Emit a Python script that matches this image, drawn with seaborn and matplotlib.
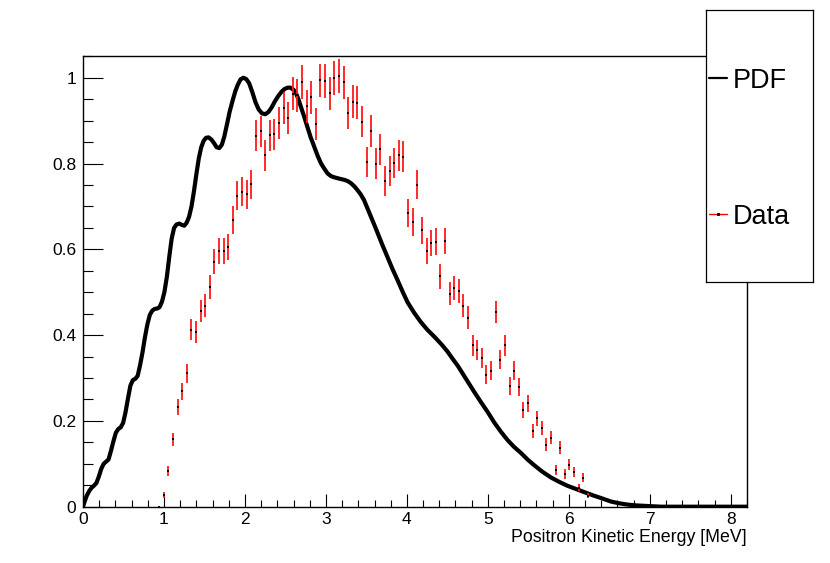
import numpy as np
import matplotlib
matplotlib.use("Agg")
import matplotlib.pyplot as plt
import seaborn as sns
from matplotlib.lines import Line2D
from matplotlib.ticker import MultipleLocator, FormatStrFormatter

# data histogram: 144 bins over 0 - 8.2 MeV, first filled bin is #16
bin_width = 8.2 / 144
first_bin = 16

data_vals = [
    0.000, 0.027, 0.083, 0.157, 0.232, 0.269, 0.311, 0.413, 0.407, 0.456,
    0.468, 0.512, 0.571, 0.596, 0.595, 0.605, 0.668, 0.725, 0.734, 0.728,
    0.752, 0.865, 0.875, 0.819, 0.866, 0.868, 0.894, 0.929, 0.906, 0.963,
    0.959, 0.990, 0.933, 0.954, 0.893, 0.994, 0.993, 0.964, 1.000, 1.004,
    0.989, 0.917, 0.944, 0.942, 0.898, 0.804, 0.876, 0.800, 0.833, 0.759,
    0.782, 0.801, 0.819, 0.816, 0.685, 0.664, 0.751, 0.644, 0.597, 0.615,
    0.618, 0.537, 0.619, 0.497, 0.509, 0.502, 0.468, 0.441, 0.376, 0.365,
    0.347, 0.308, 0.317, 0.454, 0.343, 0.376, 0.282, 0.317, 0.279, 0.226,
    0.241, 0.177, 0.206, 0.183, 0.145, 0.161, 0.086, 0.138, 0.076, 0.098,
    0.081, 0.044, 0.068, 0.026,
]
data_energy = (np.arange(first_bin, first_bin + len(data_vals)) + 0.5) * bin_width
# poisson errors of the normalised counts (peak bin ~650 entries)
n_max = 650
data_err = np.sqrt(np.array(data_vals) / n_max)

# PDF curve
pdf_energy = [
    0.000, 0.020, 0.045, 0.075, 0.105, 0.135, 0.165, 0.195, 0.225, 0.255,
    0.285, 0.315, 0.345, 0.375, 0.405, 0.435, 0.465, 0.495, 0.525, 0.555,
    0.585, 0.615, 0.645, 0.675, 0.705, 0.735, 0.765, 0.795, 0.825, 0.855,
    0.885, 0.915, 0.945, 0.975, 1.005, 1.035, 1.065, 1.095, 1.125, 1.155,
    1.19, 1.22, 1.25, 1.28, 1.31, 1.34, 1.37, 1.40, 1.43, 1.46,
    1.49, 1.52, 1.55, 1.585, 1.62, 1.65, 1.683, 1.715, 1.745, 1.78,
    1.81, 1.845, 1.88, 1.91, 1.945, 1.98, 2.015, 2.05, 2.09, 2.13,
    2.17, 2.21, 2.25, 2.29, 2.33, 2.37, 2.41, 2.45, 2.49, 2.53,
    2.56, 2.60, 2.63, 2.66, 2.69, 2.73, 2.77, 2.81, 2.856, 2.90,
    2.94, 2.98, 3.02, 3.06, 3.10, 3.16, 3.226, 3.27, 3.31, 3.35,
    3.39, 3.43, 3.47, 3.51, 3.556, 3.60, 3.64, 3.70, 3.76, 3.82,
    3.885, 3.95, 4.01, 4.09, 4.17, 4.25, 4.34, 4.42, 4.50, 4.56,
    4.63, 4.69, 4.75, 4.83, 4.91, 5.00, 5.08, 5.16, 5.24, 5.32,
    5.41, 5.49, 5.57, 5.67, 5.78, 5.88, 5.98, 6.09, 6.19, 6.29,
    6.40, 6.52, 6.62, 6.72, 6.83, 6.93, 7.04, 7.14, 8.2,
]
pdf_vals = [
    0.000, 0.012, 0.025, 0.036, 0.044, 0.049, 0.055, 0.070, 0.088, 0.100,
    0.105, 0.110, 0.130, 0.152, 0.172, 0.181, 0.185, 0.195, 0.220, 0.252,
    0.282, 0.295, 0.298, 0.305, 0.330, 0.360, 0.395, 0.425, 0.447, 0.457,
    0.461, 0.462, 0.465, 0.478, 0.500, 0.535, 0.582, 0.625, 0.650, 0.658,
    0.660, 0.657, 0.655, 0.662, 0.676, 0.700, 0.735, 0.775, 0.812, 0.838,
    0.853, 0.860, 0.861, 0.856, 0.847, 0.838, 0.836, 0.844, 0.863, 0.893,
    0.920, 0.945, 0.968, 0.983, 0.996, 1.000, 0.997, 0.988, 0.967, 0.943,
    0.926, 0.917, 0.915, 0.920, 0.931, 0.945, 0.957, 0.967, 0.974, 0.977,
    0.977, 0.972, 0.964, 0.950, 0.933, 0.910, 0.886, 0.862, 0.839, 0.817,
    0.800, 0.788, 0.777, 0.771, 0.768, 0.765, 0.762, 0.759, 0.754, 0.747,
    0.738, 0.728, 0.715, 0.697, 0.676, 0.656, 0.637, 0.609, 0.582, 0.555,
    0.528, 0.500, 0.476, 0.452, 0.431, 0.413, 0.396, 0.380, 0.362, 0.346,
    0.328, 0.310, 0.292, 0.268, 0.245, 0.220, 0.196, 0.175, 0.156, 0.140,
    0.125, 0.110, 0.097, 0.082, 0.068, 0.058, 0.049, 0.041, 0.034, 0.027,
    0.020, 0.012, 0.008, 0.005, 0.003, 0.002, 0.001, 0.000, 0.000,
]

sns.set_style("white")
plt.rcParams['font.family'] = ['Liberation Sans', 'DejaVu Sans']
plt.rcParams['text.color'] = 'black'
plt.rcParams['axes.labelcolor'] = 'black'
plt.rcParams['xtick.color'] = 'black'
plt.rcParams['ytick.color'] = 'black'

fig = plt.figure(figsize=(8.3, 5.63), dpi=100)
ax = fig.add_axes([0.1, 0.1, 0.8, 0.8])

sns.lineplot(x=pdf_energy, y=pdf_vals, color='black', lw=3, sort=False,
             estimator=None, ax=ax, zorder=2)
ax.lines[-1].set_solid_joinstyle('round')
ax.errorbar(data_energy, data_vals, yerr=data_err, fmt='none', ecolor='#ff1a1a',
            elinewidth=1.3, capsize=0, zorder=3)
sns.scatterplot(x=data_energy, y=data_vals, color='black', marker='s', s=1.2,
                linewidth=0, ax=ax, zorder=4)

ax.set_xlim(0, 8.2)
ax.set_ylim(0, 1.05)
ax.xaxis.set_major_locator(MultipleLocator(1))
ax.xaxis.set_minor_locator(MultipleLocator(0.2))
ax.yaxis.set_major_locator(MultipleLocator(0.2))
ax.yaxis.set_minor_locator(MultipleLocator(0.05))
ax.yaxis.set_major_formatter(FormatStrFormatter('%g'))
ax.tick_params(which='both', direction='in', bottom=True, left=True,
               top=False, right=False, width=0.8, color='black',
               labelcolor='black', labelsize=12.5)
ax.tick_params(axis='x', which='major', length=9.7, pad=4)
ax.tick_params(axis='x', which='minor', length=4.9)
ax.tick_params(axis='y', which='major', length=14.3, pad=5)
ax.tick_params(axis='y', which='minor', length=7.2)
for sp in ax.spines.values():
    sp.set_color('black')
    sp.set_linewidth(1.0)
ax.set_xlabel('Positron Kinetic Energy [MeV]', loc='right', fontsize=12.8,
              labelpad=1, color='black')
ax.set_ylabel('')

# legend box in the ROOT style, over the top right corner of the frame
lax = fig.add_axes([706 / 830, 1 - 282 / 563, 107 / 830, 272 / 563], zorder=10)
lax.set_facecolor('white')
lax.set_xticks([])
lax.set_yticks([])
for sp in lax.spines.values():
    sp.set_color('black')
    sp.set_linewidth(0.9)
handles = [
    Line2D([], [], color='black', lw=1.6),
    Line2D([], [], color='red', lw=1.0, marker='s', ms=1.2,
           mfc='black', mec='black'),
]
leg = lax.legend(handles, ['PDF', 'Data'], loc='center left',
                 bbox_to_anchor=(0, 0.49), frameon=False, fontsize=19.5,
                 labelspacing=4.05, handlelength=0.66, handletextpad=0.22,
                 borderpad=0.1, borderaxespad=0)
for t in leg.get_texts():
    t.set_color('black')

fig.savefig('out.png', dpi=100)
